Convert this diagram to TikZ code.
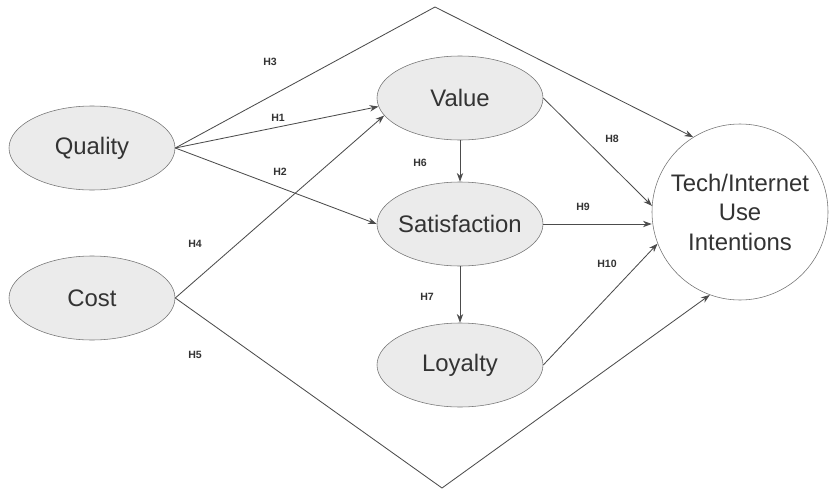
\documentclass[tikz,border=0pt]{standalone}
\usepackage{fontspec}
\setmainfont{Liberation Sans}
\usepackage{tikz}
\usetikzlibrary{arrows.meta, shapes.geometric}
\tikzset{>={Stealth[length=2.2mm, width=1.6mm]}}
\tikzset{
  construct/.style={ellipse, draw=black!55, fill=black!8, inner sep=0pt,
    minimum width=4.15cm, minimum height=2.1cm, text=black!80,
    font=\fontsize{17}{20}\selectfont},
  outcome/.style={circle, draw=black!55, fill=white, inner sep=0pt,
    minimum size=4.4cm, align=center, text=black!80,
    font=\fontsize{17}{21}\selectfont},
  path/.style={->, draw=black!70, line width=0.6pt},
  hyp/.style={font=\fontsize{7.5}{9}\selectfont\bfseries, text=black!80}
}
\newcommand{\fitlbl}[1]{\makebox[2cm]{#1}}

\begin{document}
\begin{tikzpicture}
    \useasboundingbox (0,0) rectangle (20.775,-12.325);

    % constructs
    \node[construct] (quality) at (2.3,-3.7) {\fitlbl{Quality}};
    \node[construct] (cost) at (2.3,-7.45) {\fitlbl{Cost}};
    \node[construct] (value) at (11.5,-2.45) {\fitlbl{Value}};
    \node[construct] (satis) at (11.5,-5.6) {\fitlbl{Satisfaction}};
    \node[construct] (loyal) at (11.5,-9.125) {\fitlbl{Loyalty}};
    \node[outcome] (tech) at (18.5,-5.3) {Tech/Internet\\Use\\Intentions};

    % bends of the direct paths
    \coordinate (top) at (10.875,-0.175);
    \coordinate (bottom) at (11.05,-12.2);

    % paths
    \draw[path] (quality.east) -- (value.186);
    \draw[path] (quality.east) -- (satis.west);
    \draw[path] (quality.east) -- (top) -- (tech.122);
    \draw[path] (cost.east) -- (value.193);
    \draw[path] (cost.east) -- (bottom) -- (tech.-110);
    \draw[path] (value) -- (satis);
    \draw[path] (satis) -- (loyal);
    \draw[path] (value.east) -- (tech.176);
    \draw[path] (satis.east) -- (tech.west |- satis.east);
    \draw[path] (loyal.east) -- (tech.-159);

    % hypotheses
    \node[hyp] (h1) at (6.95,-2.95) {H1};
    \node[hyp] (h2) at (7.0,-4.3) {H2};
    \node[hyp] (h3) at (6.75,-1.55) {H3};
    \node[hyp] (h4) at (4.875,-6.1) {H4};
    \node[hyp] (h5) at (4.875,-8.875) {H5};
    \node[hyp] (h6) at (10.5,-4.075) {H6};
    \node[hyp] (h7) at (10.675,-7.425) {H7};
    \node[hyp] (h8) at (15.3,-3.475) {H8};
    \node[hyp] (h9) at (14.575,-5.175) {H9};
    \node[hyp] (h10) at (15.175,-6.6) {H10};
\end{tikzpicture}
\end{document}
